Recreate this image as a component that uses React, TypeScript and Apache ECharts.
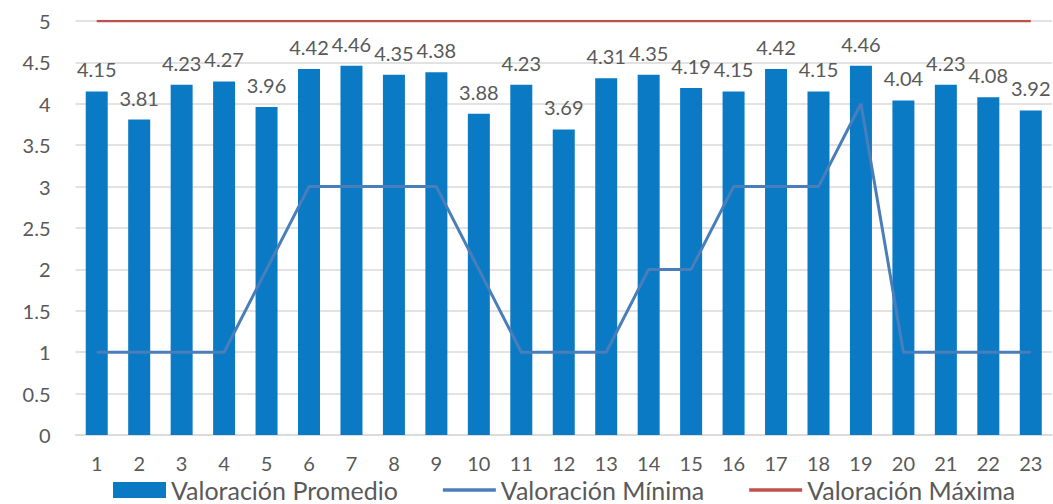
import React, { useEffect, useRef } from "react";
import * as echarts from "echarts";

const categories = ["1","2","3","4","5","6","7","8","9","10","11","12","13","14","15","16","17","18","19","20","21","22","23"];
const promedio = [4.15, 3.81, 4.23, 4.27, 3.96, 4.42, 4.46, 4.35, 4.38, 3.88, 4.23, 3.69, 4.31, 4.35, 4.19, 4.15, 4.42, 4.15, 4.46, 4.04, 4.23, 4.08, 3.92];
const minima = [1, 1, 1, 1, 2, 3, 3, 3, 3, 2, 1, 1, 1, 2, 2, 3, 3, 3, 4, 1, 1, 1, 1];
const maxima = [5, 5, 5, 5, 5, 5, 5, 5, 5, 5, 5, 5, 5, 5, 5, 5, 5, 5, 5, 5, 5, 5, 5];

const FONT = "Lato";
const TEXT = "#595959";
const BAR = "#0A7AC5";
const MIN_LINE = "#4A7EBB";
const MAX_LINE = "#C0504D";
// thin horizontal bar used as the legend mark of the two line series
const LINE_ICON = "path://M0,0H54V3.4H0Z";

export default function App() {
  const ref = useRef<HTMLDivElement>(null);
  useEffect(() => {
    if (!ref.current) return;
    const chart = echarts.init(ref.current, null, { renderer: "svg" });
    chart.setOption({
      animation: false,
      textStyle: { fontFamily: FONT },
      grid: { left: 75.5, right: 1, top: 21, bottom: 69, containLabel: false },
      legend: {
        left: 113,
        top: 477,
        padding: 0,
        itemWidth: 53,
        itemHeight: 16,
        itemGap: 45,
        symbolKeepAspect: true,
        textStyle: { fontSize: 25, lineHeight: 26, color: TEXT, fontFamily: FONT },
        data: [
          { name: "Valoración Promedio", icon: "rect" },
          { name: "Valoración Mínima", icon: LINE_ICON },
          { name: "Valoración Máxima", icon: LINE_ICON },
        ],
      },
      xAxis: {
        type: "category",
        data: categories,
        axisTick: { show: false },
        axisLine: { lineStyle: { color: "#D9D9D9", width: 1.5 } },
        axisLabel: { fontSize: 20, lineHeight: 20, color: TEXT, margin: 18, fontFamily: FONT },
      },
      yAxis: {
        type: "value",
        min: 0,
        max: 5,
        interval: 0.5,
        axisLabel: { fontSize: 20, color: TEXT, margin: 25, fontFamily: FONT },
        splitLine: { lineStyle: { color: "#D9D9D9", width: 1.5 } },
        axisLine: { show: false },
        axisTick: { show: false },
      },
      series: [
        {
          name: "Valoración Promedio",
          type: "bar",
          data: promedio,
          barWidth: 22,
          itemStyle: { color: BAR },
          label: {
            show: true,
            position: "top",
            distance: 12,
            fontSize: 20,
            color: TEXT,
            fontFamily: FONT,
          },
        },
        {
          name: "Valoración Mínima",
          type: "line",
          data: minima,
          symbol: "none",
          lineStyle: { color: MIN_LINE, width: 3 },
          itemStyle: { color: MIN_LINE },
        },
        {
          name: "Valoración Máxima",
          type: "line",
          data: maxima,
          symbol: "none",
          lineStyle: { color: MAX_LINE, width: 2.5 },
          itemStyle: { color: MAX_LINE },
        },
      ],
    });
    return () => chart.dispose();
  }, []);
  return (
    <div
      ref={ref}
      style={{ position: "fixed", left: 0, top: 0, width: 1053, height: 504, background: "#fff" }}
    />
  );
}
